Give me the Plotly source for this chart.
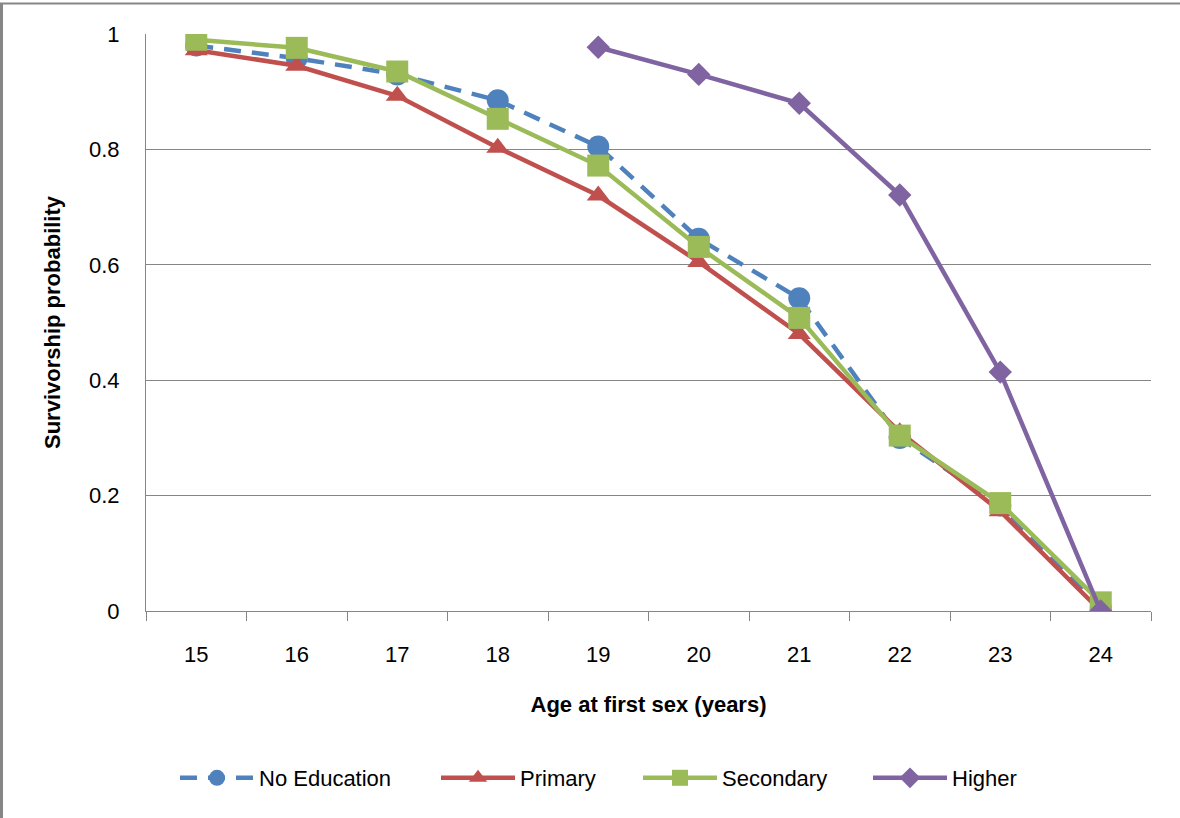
import plotly.graph_objects as go

ages = ["15", "16", "17", "18", "19", "20", "21", "22", "23", "24"]
no_education = [0.980, 0.958, 0.930, 0.885, 0.805, 0.645, 0.542, 0.300, 0.183, 0.005]
primary = [0.972, 0.945, 0.893, 0.803, 0.720, 0.605, 0.480, 0.310, 0.173, 0.000]
secondary = [0.990, 0.976, 0.935, 0.853, 0.772, 0.631, 0.508, 0.304, 0.187, 0.015]
higher = [None, None, None, None, 0.977, 0.930, 0.880, 0.721, 0.414, 0.000]
y_ticks = [0, 0.2, 0.4, 0.6, 0.8, 1]
y_tick_labels = ["0", "0.2", "0.4", "0.6", "0.8", "1"]

FONT = "Liberation Sans"
GRID = "#868686"

W, H = 1180, 818
L, R, T, B = 146, 29, 34, 207
PW = W - L - R
PH = H - T - B


def px_x(px):
    return (px - L) / PW


def px_y(py):
    return (H - B - py) / PH


fig = go.Figure()
fig.add_trace(go.Scatter(
    x=ages, y=no_education, name="No Education", mode="lines+markers",
    line=dict(color="#4F81BD", width=4.5, dash="17px,11px"),
    marker=dict(symbol="circle", size=22, color="#4F81BD"),
    legend="legend"))
fig.add_trace(go.Scatter(
    x=ages, y=primary, name="Primary", mode="lines+markers",
    line=dict(color="#C0504D", width=4.5),
    marker=dict(symbol="triangle-up", size=20, color="#C0504D"),
    legend="legend2"))
fig.add_trace(go.Scatter(
    x=ages, y=secondary, name="Secondary", mode="lines+markers",
    line=dict(color="#9BBB59", width=4.5),
    marker=dict(symbol="square", size=22, color="#9BBB59"),
    legend="legend3"))
fig.add_trace(go.Scatter(
    x=ages, y=higher, name="Higher", mode="lines+markers",
    line=dict(color="#8064A2", width=4.5),
    marker=dict(symbol="diamond", size=18, color="#8064A2"),
    connectgaps=False, legend="legend4"))

ITEMW = 74
leg_common = dict(orientation="h", yanchor="middle", xanchor="left",
                  y=px_y(778), bgcolor="rgba(0,0,0,0)", borderwidth=0,
                  itemwidth=ITEMW, font=dict(family=FONT, size=22, color="#000000"))
text_starts = [259, 520, 722, 952]
legends = {}
for i, ts in enumerate(text_starts):
    key = "legend" if i == 0 else f"legend{i + 1}"
    legends[key] = dict(leg_common, x=px_x(ts - ITEMW - 10))

fig.update_layout(
    width=W, height=H,
    margin=dict(l=L, r=R, t=T, b=B, pad=0),
    paper_bgcolor="white", plot_bgcolor="white",
    font=dict(family=FONT, size=22, color="#000000"),
    showlegend=True,
    xaxis=dict(
        type="category", tickson="boundaries", ticks="outside", ticklen=9,
        tickcolor=GRID, tickwidth=1, showgrid=False,
        showline=True, linecolor=GRID, linewidth=1,
        range=[-0.5, 9.5], ticklabelstandoff=24,
        tickfont=dict(family=FONT, size=22, color="#000000"),
        title=dict(text="<b>Age at first sex (years)</b>", standoff=30,
                   font=dict(family=FONT, size=22, color="#000000")),
    ),
    yaxis=dict(
        range=[0, 1], tickvals=y_ticks, ticktext=y_tick_labels,
        ticks="", showgrid=True, gridcolor=GRID, gridwidth=1,
        showline=True, linecolor=GRID, linewidth=1, zeroline=False,
        ticklabelstandoff=21,
        tickfont=dict(family=FONT, size=22, color="#000000"),
        title=dict(text="<b>Survivorship probability</b>", standoff=22,
                   font=dict(family=FONT, size=22, color="#000000")),
    ),
    shapes=[
        dict(type="line", xref="paper", yref="paper",
             x0=px_x(1.5), x1=px_x(1.5), y0=px_y(818), y1=px_y(3),
             line=dict(color=GRID, width=3)),
        dict(type="line", xref="paper", yref="paper",
             x0=px_x(0), x1=px_x(1180), y0=px_y(3.5), y1=px_y(3.5),
             line=dict(color=GRID, width=2)),
    ],
    **legends,
)

fig.write_html("out.html")
